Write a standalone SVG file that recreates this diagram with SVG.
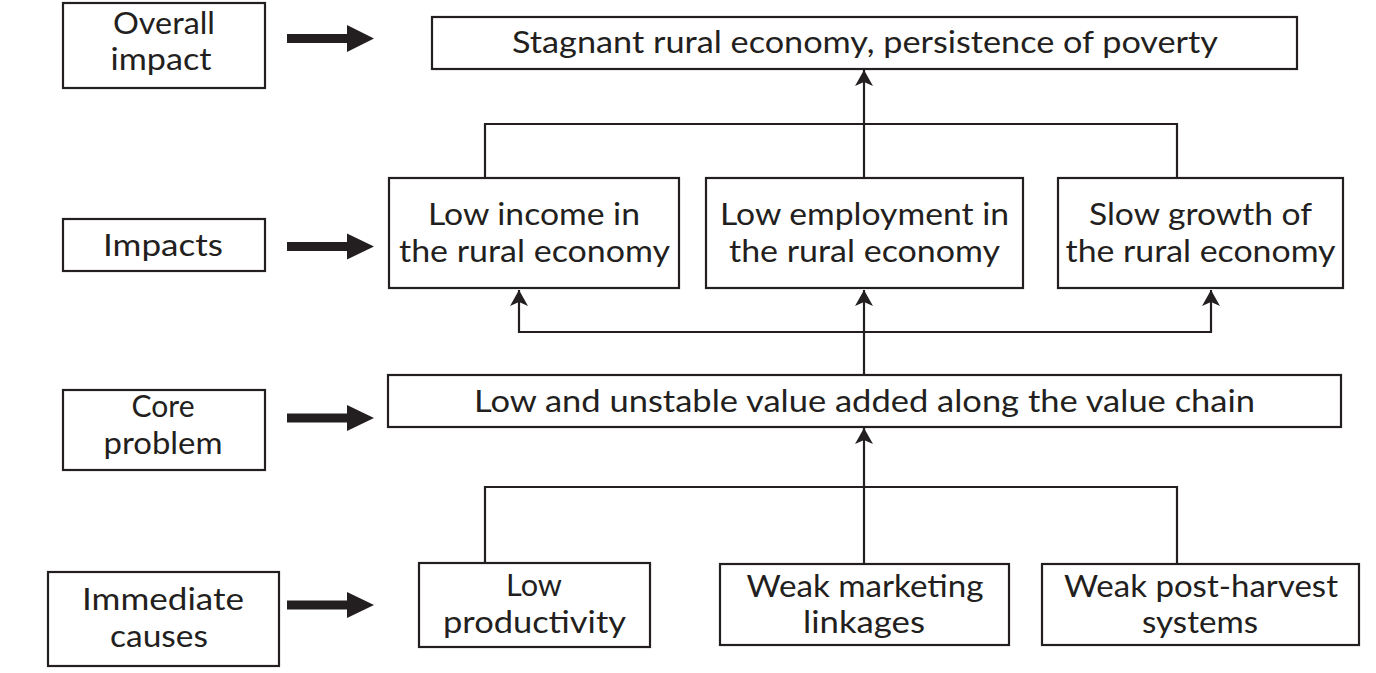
<svg xmlns="http://www.w3.org/2000/svg" width="1376" height="673" viewBox="0 0 1376 673">
<defs>
<style>
.box{fill:#fff;stroke:#231f20;stroke-width:2.2}
.t{font-family:Lato,"Open Sans","Liberation Sans",sans-serif;font-size:30.5px;fill:#231f20;text-anchor:middle}
.ln{fill:none;stroke:#231f20;stroke-width:2.2}
.big{fill:#231f20}
</style>
<marker id="ah" viewBox="0 0 16 18" refX="16" refY="9" markerWidth="16" markerHeight="18" markerUnits="userSpaceOnUse" orient="auto">
<path d="M0,0 L16,9 L0,18 L4,9 Z" fill="#231f20"/>
</marker>
</defs>
<rect width="1376" height="673" fill="#fff"/>

<g id="label-overall">
<rect class="box" x="63" y="3" width="202" height="85"/>
<text class="t" x="164" y="34" textLength="102" lengthAdjust="spacingAndGlyphs">Overall</text>
<text class="t" x="161" y="70" textLength="101" lengthAdjust="spacingAndGlyphs">impact</text>
</g>
<g id="label-impacts">
<rect class="box" x="63" y="219" width="202" height="52"/>
<text class="t" x="163" y="256" textLength="120" lengthAdjust="spacingAndGlyphs">Impacts</text>
</g>
<g id="label-core">
<rect class="box" x="63" y="390" width="202" height="80"/>
<text class="t" x="163" y="417" textLength="63" lengthAdjust="spacingAndGlyphs">Core</text>
<text class="t" x="163" y="454" textLength="119" lengthAdjust="spacingAndGlyphs">problem</text>
</g>
<g id="label-immediate">
<rect class="box" x="48" y="572" width="231" height="94"/>
<text class="t" x="163" y="610" textLength="162" lengthAdjust="spacingAndGlyphs">Immediate</text>
<text class="t" x="159" y="647" textLength="98" lengthAdjust="spacingAndGlyphs">causes</text>
</g>

<g id="level-arrows">
<polygon class="big" points="287,34 347,34 347,25 374,38.5 347,52 347,43 287,43"/>
<polygon class="big" points="287,242 347,242 347,233.5 374,246.5 347,259.5 347,251 287,251"/>
<polygon class="big" points="287,413.5 347,413.5 347,405 374,418 347,431 347,422.5 287,422.5"/>
<polygon class="big" points="287,600.5 347,600.5 347,592 374,605 347,618 347,609.5 287,609.5"/>
</g>

<g id="connectors">
<polyline class="ln" points="485,178 485,124 1177,124 1177,178"/>
<line class="ln" x1="864" y1="178" x2="864" y2="70" marker-end="url(#ah)" stroke-width="2.6"/>
<line class="ln" x1="519" y1="332" x2="1211" y2="332"/>
<line class="ln" x1="519" y1="333" x2="519" y2="290" marker-end="url(#ah)"/>
<line class="ln" x1="1211" y1="333" x2="1211" y2="290" marker-end="url(#ah)"/>
<line class="ln" x1="864" y1="375" x2="864" y2="290" marker-end="url(#ah)" stroke-width="2.6"/>
<polyline class="ln" points="485,563 485,487 1177,487 1177,564"/>
<line class="ln" x1="864" y1="564" x2="864" y2="428" marker-end="url(#ah)" stroke-width="2.6"/>
</g>

<g id="n-stagnant">
<rect class="box" x="432" y="17" width="865" height="52"/>
<text class="t" x="865" y="53" textLength="706" lengthAdjust="spacingAndGlyphs">Stagnant rural economy, persistence of poverty</text>
</g>
<g id="n-income">
<rect class="box" x="389" y="178" width="290" height="110"/>
<text class="t" x="534" y="225" textLength="212" lengthAdjust="spacingAndGlyphs">Low income in</text>
<text class="t" x="534.5" y="262" textLength="271" lengthAdjust="spacingAndGlyphs">the rural economy</text>
</g>
<g id="n-employment">
<rect class="box" x="706" y="178" width="317" height="110"/>
<text class="t" x="864.5" y="225" textLength="289" lengthAdjust="spacingAndGlyphs">Low employment in</text>
<text class="t" x="864.5" y="262" textLength="271" lengthAdjust="spacingAndGlyphs">the rural economy</text>
</g>
<g id="n-growth">
<rect class="box" x="1058" y="178" width="285" height="110"/>
<text class="t" x="1200.5" y="225" textLength="223" lengthAdjust="spacingAndGlyphs">Slow growth of</text>
<text class="t" x="1200.5" y="262" textLength="270" lengthAdjust="spacingAndGlyphs">the rural economy</text>
</g>
<g id="n-core">
<rect class="box" x="388" y="375" width="953" height="52"/>
<text class="t" x="864.5" y="412" textLength="781" lengthAdjust="spacingAndGlyphs">Low and unstable value added along the value chain</text>
</g>
<g id="n-productivity">
<rect class="box" x="419" y="563" width="231" height="84"/>
<text class="t" x="534" y="596" textLength="56" lengthAdjust="spacingAndGlyphs">Low</text>
<text class="t" x="534.5" y="633" textLength="183" lengthAdjust="spacingAndGlyphs">productivity</text>
</g>
<g id="n-marketing">
<rect class="box" x="720" y="564" width="289" height="81"/>
<text class="t" x="865" y="597" textLength="237" lengthAdjust="spacingAndGlyphs">Weak marketing</text>
<text class="t" x="864" y="633" textLength="122" lengthAdjust="spacingAndGlyphs">linkages</text>
</g>
<g id="n-postharvest">
<rect class="box" x="1042" y="564" width="317" height="81"/>
<text class="t" x="1201" y="597" textLength="274" lengthAdjust="spacingAndGlyphs">Weak post-harvest</text>
<text class="t" x="1200" y="633" textLength="116" lengthAdjust="spacingAndGlyphs">systems</text>
</g>
</svg>
